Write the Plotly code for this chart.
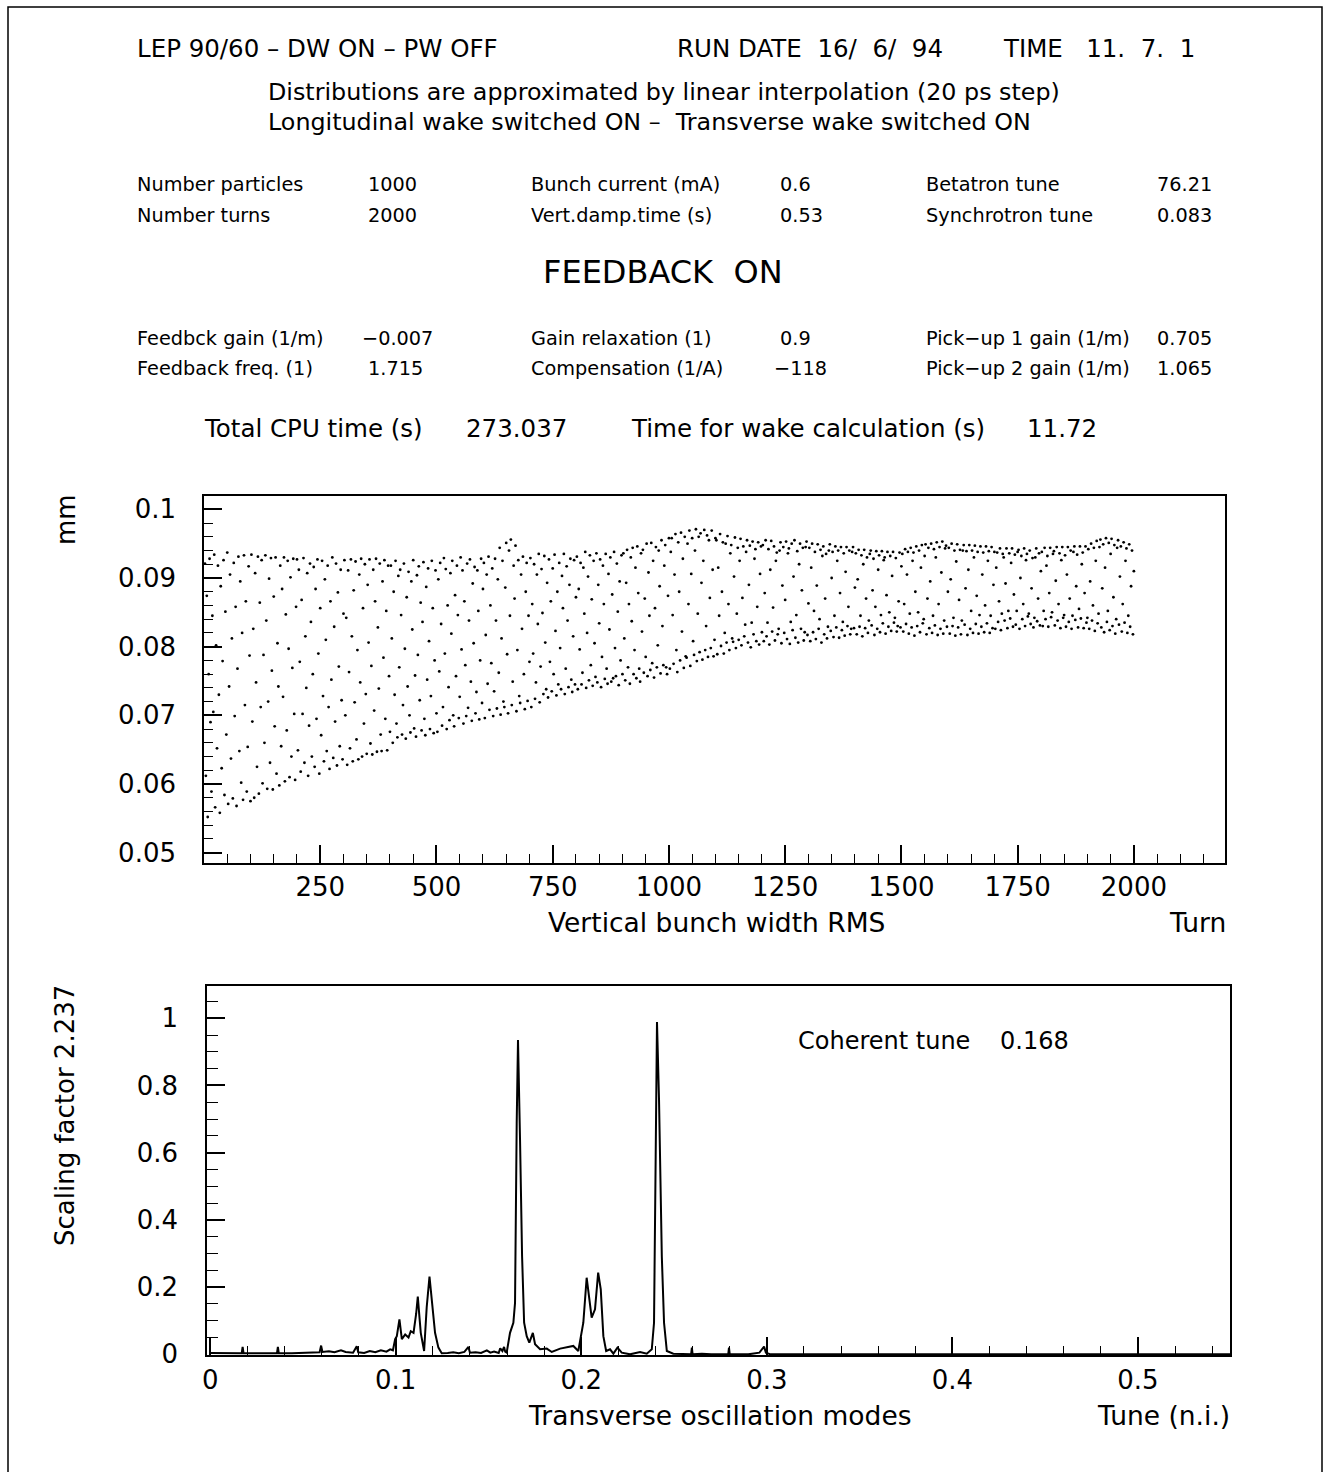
import plotly.graph_objects as go

W, H = 1333, 1472

# ---------------- DATA ----------------
# Vertical bunch width RMS, read every 2nd turn, in units of 1e-4 mm
width_rows_e4 = [
    [921, 612, 874, 552, 760, 928, 690, 589, 845, 705, 934, 566, 802, 652, 918, 730, 558, 888, 623, 779,
     926, 584, 851, 672, 937, 571, 742, 905, 637, 812, 579, 922, 699, 858, 568, 768, 931, 648, 895, 602,
     820, 577, 933, 715, 866, 589, 654, 917, 787, 575],
    [934, 691, 826, 580, 907, 748, 625, 931, 586, 864, 712, 926, 601, 788, 660, 933, 838, 593, 720, 899,
     631, 929, 765, 592, 873, 684, 930, 615, 805, 742, 598, 918, 655, 884, 727, 930, 604, 847, 678, 925,
     797, 610, 901, 640, 769, 928, 702, 606, 858, 927],
    [649, 912, 778, 618, 868, 702, 929, 631, 815, 740, 907, 612, 685, 921, 836, 640, 760, 916, 625, 884,
     695, 927, 790, 615, 856, 671, 925, 728, 633, 898, 810, 648, 918, 712, 622, 866, 752, 930, 638, 829,
     691, 921, 627, 879, 771, 655, 912, 722, 636, 848],
    [926, 700, 842, 628, 911, 763, 652, 927, 815, 633, 882, 719, 924, 665, 795, 636, 905, 748, 928, 640,
     856, 688, 920, 731, 644, 890, 806, 927, 659, 772, 643, 912, 707, 866, 928, 647, 828, 739, 921, 672,
     648, 895, 784, 926, 695, 852, 649, 918, 757, 676],
    [918, 812, 660, 880, 730, 925, 688, 668, 903, 770, 912, 846, 672, 715, 921, 797, 666, 872, 742, 909,
     700, 675, 895, 825, 926, 681, 758, 669, 904, 788, 917, 722, 864, 678, 836, 923, 695, 671, 887, 752,
     914, 808, 680, 728, 925, 856, 674, 780, 911, 703],
    [676, 898, 764, 922, 833, 685, 712, 929, 790, 913, 680, 860, 741, 693, 907, 819, 925, 700, 684, 875,
     757, 918, 846, 696, 727, 930, 796, 911, 688, 866, 773, 699, 921, 711, 838, 927, 749, 692, 892, 805,
     916, 703, 734, 911, 852, 694, 780, 928, 718, 884],
    [922, 696, 817, 905, 746, 931, 708, 860, 776, 914, 699, 735, 928, 838, 710, 898, 762, 944, 701, 812,
     925, 720, 712, 886, 951, 789, 703, 940, 845, 956, 715, 749, 918, 870, 947, 706, 795, 926, 728, 718,
     905, 826, 931, 760, 709, 880, 922, 721, 845, 778],
    [929, 712, 862, 790, 920, 724, 748, 905, 833, 935, 719, 771, 913, 849, 731, 932, 806, 738, 893, 726,
     927, 778, 866, 735, 914, 760, 934, 823, 729, 880, 745, 922, 798, 738, 903, 856, 935, 731, 768, 917,
     838, 741, 890, 928, 752, 734, 815, 926, 745, 872],
    [931, 738, 884, 796, 922, 745, 762, 915, 848, 938, 740, 820, 902, 751, 933, 773, 869, 743, 925, 805,
     756, 936, 748, 890, 834, 927, 741, 785, 918, 862, 753, 935, 768, 746, 906, 825, 930, 749, 876, 754,
     938, 798, 757, 921, 851, 744, 895, 780, 933, 760],
    [936, 812, 751, 893, 941, 770, 862, 746, 930, 837, 944, 760, 795, 915, 754, 946, 878, 768, 749, 936,
     822, 941, 762, 870, 785, 950, 757, 908, 845, 766, 951, 776, 925, 755, 856, 945, 770, 802, 940, 888,
     761, 955, 830, 773, 918, 948, 770, 760, 874, 958],
    [768, 938, 958, 846, 775, 905, 964, 795, 763, 952, 880, 780, 966, 822, 928, 769, 960, 786, 784, 950,
     862, 969, 772, 906, 958, 808, 788, 940, 971, 779, 848, 960, 792, 965, 893, 781, 925, 970, 795, 830,
     962, 785, 955, 871, 798, 969, 912, 786, 810, 958],
    [955, 789, 915, 845, 964, 801, 880, 952, 790, 820, 950, 806, 961, 862, 795, 936, 948, 812, 807, 902,
     959, 798, 848, 944, 810, 925, 957, 802, 871, 946, 815, 832, 938, 955, 806, 890, 947, 799, 835, 953,
     818, 928, 942, 808, 858, 952, 803, 906, 946, 821],
    [948, 808, 878, 955, 815, 835, 942, 803, 912, 954, 822, 857, 946, 809, 925, 937, 818, 826, 940, 952,
     805, 889, 945, 820, 868, 953, 811, 936, 943, 804, 836, 950, 824, 902, 955, 813, 846, 939, 806, 920,
     950, 826, 882, 944, 809, 821, 945, 953, 817, 863],
    [944, 808, 915, 950, 821, 852, 938, 811, 889, 949, 826, 840, 941, 806, 932, 946, 818, 870, 935, 812,
     829, 940, 949, 823, 900, 938, 814, 845, 946, 828, 925, 940, 813, 878, 945, 824, 836, 936, 816, 909,
     945, 830, 858, 940, 818, 826, 938, 945, 827, 886],
    [936, 818, 898, 941, 829, 845, 933, 815, 920, 941, 827, 870, 930, 820, 838, 935, 940, 831, 882, 928,
     817, 858, 939, 826, 912, 933, 821, 846, 939, 834, 926, 930, 819, 875, 938, 829, 850, 932, 823, 903,
     938, 835, 842, 929, 822, 830, 866, 937, 828, 917],
    [935, 822, 862, 942, 833, 905, 938, 819, 848, 944, 828, 925, 937, 816, 880, 946, 830, 850, 940, 821,
     915, 948, 834, 840, 932, 949, 818, 870, 944, 827, 895, 950, 820, 845, 942, 831, 930, 952, 817, 862,
     945, 826, 908, 953, 819, 838, 943, 947, 829, 880],
    [944, 819, 898, 950, 830, 842, 940, 816, 924, 949, 828, 868, 941, 818, 838, 940, 948, 832, 885, 939,
     817, 912, 948, 826, 852, 940, 820, 930, 947, 833, 874, 938, 819, 846, 946, 829, 905, 937, 821, 860,
     946, 834, 925, 939, 820, 845, 945, 827, 890, 938],
    [826, 915, 937, 836, 866, 943, 824, 848, 935, 930, 838, 892, 943, 827, 852, 936, 841, 922, 943, 829,
     876, 934, 832, 852, 938, 941, 826, 900, 932, 840, 862, 943, 830, 926, 935, 844, 848, 940, 833, 885,
     929, 828, 842, 930, 943, 837, 870, 936, 831, 910],
    [938, 830, 852, 944, 840, 918, 932, 829, 878, 944, 843, 850, 935, 939, 831, 896, 945, 838, 862, 936,
     827, 926, 945, 842, 846, 933, 829, 905, 945, 836, 870, 940, 826, 845, 938, 946, 839, 888, 934, 828,
     855, 946, 841, 920, 937, 827, 878, 946, 835, 842],
    [942, 826, 895, 950, 838, 860, 944, 823, 925, 954, 834, 848, 945, 956, 828, 885, 949, 821, 915, 958,
     836, 852, 951, 824, 935, 957, 830, 872, 948, 819, 840, 944, 955, 832, 902, 946, 822, 862, 952, 835,
     925, 943, 820, 845, 949, 829, 888, 940, 818, 910],
]

# Transverse oscillation spectrum (tune, normalised amplitude)
tune_pts = [
    0.000, 0.006, 0.012, 0.017, 0.0175, 0.018, 0.024, 0.030, 0.036, 0.0365, 0.037, 0.044, 0.050,
    0.055, 0.059, 0.0598, 0.0605, 0.064, 0.067, 0.0705, 0.073, 0.077, 0.0790, 0.0798, 0.083, 0.086,
    0.089, 0.092, 0.095, 0.097, 0.0985,
    0.0997, 0.1006, 0.1020, 0.1033, 0.1051, 0.1069, 0.1081, 0.1096, 0.1110, 0.1119, 0.1128, 0.1135,
    0.1153, 0.1167, 0.1182, 0.1194, 0.1212, 0.1230, 0.1248,
    0.128, 0.131, 0.134, 0.137, 0.1392, 0.1400, 0.143, 0.146, 0.1491, 0.151, 0.153, 0.1555, 0.1563,
    0.1575, 0.1584, 0.1590,
    0.1598, 0.1616, 0.1634, 0.1643, 0.1652, 0.1659, 0.1670, 0.1681, 0.1692, 0.1706, 0.1720, 0.1739,
    0.1751, 0.1778, 0.1814, 0.1841, 0.1886, 0.1922, 0.1957, 0.1984,
    0.1997, 0.2011, 0.2029, 0.2042, 0.2056, 0.2074, 0.2091, 0.2105, 0.2119, 0.2134, 0.2155, 0.2173,
    0.2195, 0.2218, 0.2263, 0.2317, 0.2353, 0.2380,
    0.2392, 0.2401, 0.2408, 0.2419, 0.2434, 0.2446, 0.2461, 0.2496, 0.2550,
    0.2592, 0.2596, 0.2600, 0.2650, 0.2700, 0.2792, 0.2796, 0.2800, 0.2900, 0.2960, 0.2975, 0.2985,
    0.2995, 0.3020, 0.4000, 0.5496,
]
amplitude = [
    0.004, 0.003, 0.004, 0.003, 0.022, 0.003, 0.003, 0.002, 0.003, 0.022, 0.003, 0.003, 0.004,
    0.005, 0.006, 0.026, 0.007, 0.009, 0.006, 0.012, 0.007, 0.005, 0.024, 0.006, 0.004, 0.010,
    0.006, 0.012, 0.008, 0.015, 0.012,
    0.045, 0.054, 0.104, 0.045, 0.059, 0.050, 0.069, 0.064, 0.120, 0.172, 0.110, 0.064,
    0.010, 0.140, 0.231, 0.163, 0.064, 0.020, 0.003,
    0.004, 0.006, 0.003, 0.007, 0.022, 0.005, 0.006, 0.004, 0.012, 0.005, 0.008, 0.004, 0.018,
    0.010, 0.022, 0.008,
    0.005, 0.064, 0.094, 0.153, 0.688, 0.935, 0.638, 0.292, 0.094, 0.054, 0.035, 0.064,
    0.030, 0.015, 0.017, 0.007, 0.017, 0.020, 0.025, 0.010,
    0.054, 0.094, 0.228, 0.163, 0.109, 0.134, 0.243, 0.193, 0.054, 0.010, 0.015, 0.002,
    0.020, 0.005, 0.000, 0.007, 0.002, 0.015,
    0.094, 0.590, 0.989, 0.757, 0.292, 0.094, 0.010, 0.002, 0.000,
    0.000, 0.020, 0.000, 0.002, 0.000, 0.000, 0.020, 0.000, 0.000, 0.005, 0.015, 0.023,
    0.005, 0.000, 0.000, 0.000,
]

turn_ticks = [250, 500, 750, 1000, 1250, 1500, 1750, 2000]
width_ticks = [0.05, 0.06, 0.07, 0.08, 0.09, 0.1]
width_tick_text = ["0.05", "0.06", "0.07", "0.08", "0.09", "0.1"]
tune_ticks = [0, 0.1, 0.2, 0.3, 0.4, 0.5]
tune_tick_text = ["0", "0.1", "0.2", "0.3", "0.4", "0.5"]
amp_ticks = [0, 0.2, 0.4, 0.6, 0.8, 1.0]
amp_tick_text = ["0", "0.2", "0.4", "0.6", "0.8", "1"]

widths_e4 = [v for row in width_rows_e4 for v in row]
widths_mm = [v / 10000 for v in widths_e4]
turns = list(range(2, 2 * len(widths_mm) + 1, 2))

# ---------------- FIGURE ----------------
FONT = "DejaVu Sans"


def px(x):
    return x / W


def py(y):
    return 1 - y / H


fig = go.Figure()
fig.add_trace(go.Scatter(
    x=turns, y=widths_mm, mode="markers", xaxis="x", yaxis="y",
    marker=dict(size=2.8, color="black", line=dict(width=0)), hoverinfo="skip"))
fig.add_trace(go.Scatter(
    x=tune_pts, y=amplitude, mode="lines", xaxis="x2", yaxis="y2",
    line=dict(color="black", width=2), hoverinfo="skip"))

axis_common = dict(
    showline=True, linecolor="black", linewidth=1.6, mirror=True,
    ticks="inside", tickcolor="black", tickwidth=1.6, ticklen=18,
    showgrid=False, zeroline=False, automargin=False,
    tickfont=dict(family=FONT, size=26, color="black"),
)

fig.update_layout(
    width=W, height=H, autosize=False,
    margin=dict(l=0, r=0, t=0, b=0, pad=0, autoexpand=False),
    paper_bgcolor="white", plot_bgcolor="white",
    showlegend=False,
    xaxis=dict(
        axis_common, domain=[px(204), px(1225)], range=[0, 2196], anchor="y",
        tickmode="array", tickvals=turn_ticks, ticktext=[str(t) for t in turn_ticks],
        ticklabelstandoff=0,
        minor=dict(ticks="inside", ticklen=9, tickwidth=1.3, tickcolor="black", tick0=0, dtick=50),
    ),
    yaxis=dict(
        axis_common, domain=[py(863), py(496)], range=[0.0485, 0.10194], anchor="x",
        tickmode="array", tickvals=width_ticks, ticktext=width_tick_text,
        ticklabelstandoff=21,
        minor=dict(ticks="inside", ticklen=9, tickwidth=1.3, tickcolor="black", tick0=0.05, dtick=0.002),
    ),
    xaxis2=dict(
        axis_common, domain=[px(207), px(1230)], range=[-0.0017, 0.5496], anchor="y2",
        tickmode="array", tickvals=tune_ticks, ticktext=tune_tick_text,
        ticklabelstandoff=1,
        minor=dict(ticks="inside", ticklen=9, tickwidth=1.3, tickcolor="black", tick0=0, dtick=0.02),
    ),
    yaxis2=dict(
        axis_common, domain=[py(1355), py(986)], range=[-0.002, 1.096], anchor="x2",
        tickmode="array", tickvals=amp_ticks, ticktext=amp_tick_text,
        ticklabelstandoff=22,
        minor=dict(ticks="inside", ticklen=11, tickwidth=1.3, tickcolor="black", tick0=0, dtick=0.05),
    ),
)

NB = "\u00a0"
annotations = []


def ann(text, x, y, size, anchor="left", angle=0):
    shift = {"left": -2, "right": 2, "center": 0}[anchor]
    annotations.append(dict(
        text=text, x=px(x + shift), y=py(y), xref="paper", yref="paper",
        xanchor=anchor, yanchor="middle", showarrow=False, textangle=angle,
        font=dict(family=FONT, size=size, color="black")))


# header
ann("LEP 90/60 – DW ON – PW OFF", 137, 48, 24.5)
ann("RUN DATE" + NB * 2 + "16/" + NB * 2 + "6/" + NB * 2 + "94", 677, 48, 24.5)
ann("TIME" + NB * 3 + "11." + NB * 2 + "7." + NB * 2 + "1", 1003, 48, 24.5)
ann("Distributions are approximated by linear interpolation (20 ps step)", 268, 92, 23.8)
ann("Longitudinal wake switched ON –" + NB * 2 + "Transverse wake switched ON", 268, 122, 23.8)

rows_text = [
    (185, ["Number particles", "1000", "Bunch current (mA)", "0.6", "Betatron tune", "76.21"]),
    (215, ["Number turns", "2000", "Vert.damp.time (s)", "0.53", "Synchrotron tune", "0.083"]),
    (338, ["Feedbck gain (1/m)", "−0.007", "Gain relaxation (1)", "0.9", "Pick−up 1 gain (1/m)", "0.705"]),
    (368, ["Feedback freq. (1)", "1.715", "Compensation (1/A)", "−118", "Pick−up 2 gain (1/m)", "1.065"]),
]
col_x = [137, 368, 531, 780, 926, 1157]
for yy, cells in rows_text:
    for cx, t in zip(col_x, cells):
        if t.startswith("−"):
            cx -= 6
        ann(t, cx, yy, 19.3)

ann("FEEDBACK" + NB * 2 + "ON", 663, 272, 32, "center")

ann("Total CPU time (s)", 204, 429, 24.5)
ann("273.037", 466, 429, 24.5)
ann("Time for wake calculation (s)", 631, 429, 24.5)
ann("11.72", 1027, 429, 24.5)

# axis titles
ann("Vertical bunch width RMS", 716, 922, 26.5, "center")
ann("Turn", 1226, 922, 26.5, "right")
ann("mm", 66, 520, 26, "center", -90)
ann("Scaling factor 2.237", 65, 1116, 26, "center", -90)
ann("Coherent tune", 798, 1041, 24)
ann("0.168", 1000, 1041, 24)
ann("Transverse oscillation modes", 720, 1415, 26.5, "center")
ann("Tune (n.i.)", 1230, 1415, 26.5, "right")

fig.update_layout(annotations=annotations)

fig.add_shape(type="rect", xref="paper", yref="paper",
              x0=px(8), x1=px(1322), y0=-0.05, y1=py(7),
              line=dict(color="black", width=1.5), fillcolor="rgba(0,0,0,0)")

fig.write_html("out.html", config={"displayModeBar": False, "responsive": False},
               post_script="document.body.style.margin='0';")
